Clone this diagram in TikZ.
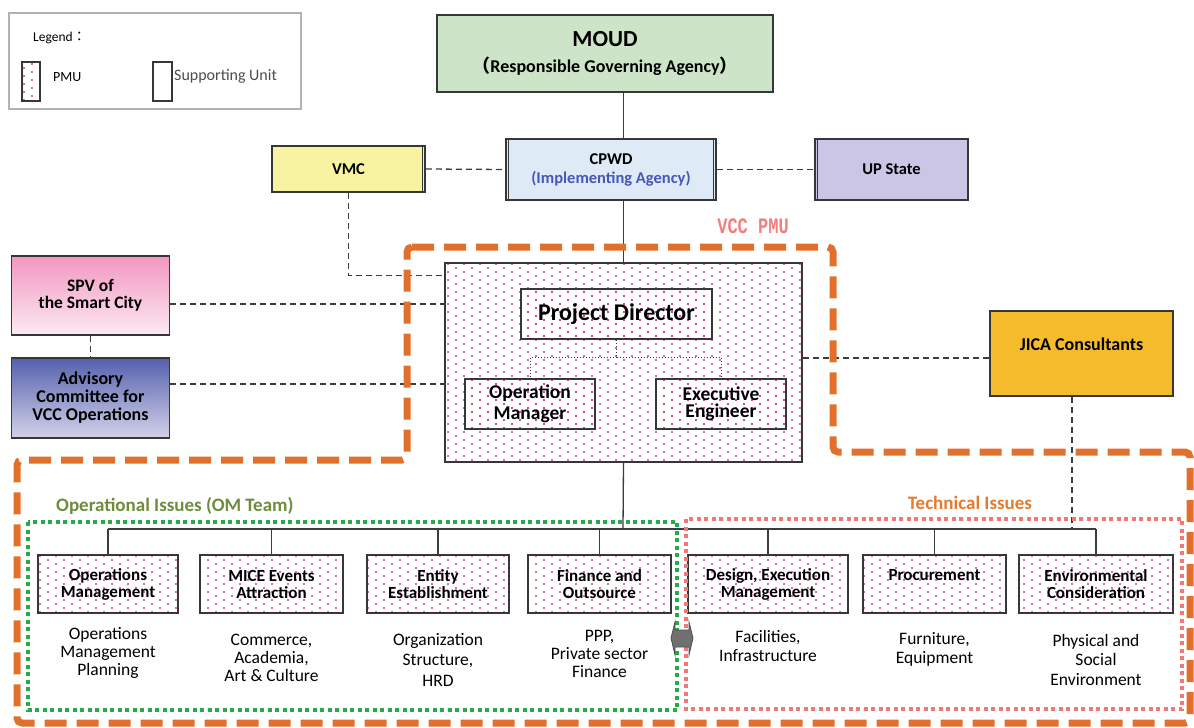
\documentclass[tikz,border=0pt]{standalone}
\usepackage{fontspec}
\setmainfont{Carlito}
\newfontfamily\cjk{Noto Sans CJK JP}
\newfontfamily\pmufont{Liberation Mono}
\usepackage{tikz}
\usetikzlibrary{patterns}

\definecolor{boxline}{RGB}{55,55,55}
\definecolor{linegray}{RGB}{60,60,60}
\definecolor{dotpink}{RGB}{210,60,150}
\definecolor{moudgreen}{RGB}{206,228,200}
\definecolor{cpwdblue}{RGB}{222,234,246}
\definecolor{agencyblue}{RGB}{70,88,184}
\definecolor{vmcyellow}{RGB}{247,243,161}
\definecolor{uplilac}{RGB}{203,198,229}
\definecolor{spvtop}{RGB}{242,150,192}
\definecolor{spvbot}{RGB}{252,234,242}
\definecolor{advtop}{RGB}{84,96,172}
\definecolor{advbot}{RGB}{212,210,234}
\definecolor{jicagold}{RGB}{244,188,44}
\definecolor{fenceorange}{RGB}{224,112,44}
\definecolor{vccred}{RGB}{240,128,128}
\definecolor{omgreen}{RGB}{36,172,72}
\definecolor{omolive}{RGB}{110,140,60}
\definecolor{techpink}{RGB}{240,120,120}
\definecolor{techorange}{RGB}{228,122,46}
\definecolor{arrowgray}{RGB}{112,112,112}

\newcommand\setfs[2]{\fontsize{#1}{#2}\selectfont}

\pgfdeclarepatternformonly{pmudots}{\pgfqpoint{-1.5pt}{-1.5pt}}{\pgfqpoint{14.5pt}{6.5pt}}{\pgfqpoint{16pt}{8pt}}{%
  \pgfpathcircle{\pgfqpoint{0pt}{0pt}}{1.05pt}%
  \pgfpathcircle{\pgfqpoint{8pt}{4pt}}{1.05pt}%
  \pgfusepath{fill}}

\begin{document}
\begin{tikzpicture}[x=1pt,y=-1pt,
  unit/.style={draw=boxline,line width=1.6,align=center,inner sep=2,text=black,font=\bfseries},
  pmubox/.style={unit,pattern=pmudots,pattern color=dotpink},
  link/.style={draw=linegray,line width=1.3,dash pattern=on 6pt off 4pt},
  tree/.style={draw=linegray,line width=1.3},
  desc/.style={align=center,inner sep=0,anchor=north,font=\setfs{17.5}{18}},
  pmufence/.style={draw=fenceorange,line width=7,dash pattern=on 22pt off 10pt,rounded corners=5},
  issuefence/.style={line width=4,dash pattern=on 4pt off 3.5pt}]
\useasboundingbox (0,0) rectangle (1194,728);

% legend
\node[draw=gray!60,line width=1.2,minimum width=292,minimum height=96] (legend) at (155,61) {};
\node[anchor=west,inner sep=0,font=\setfs{13.5}{15}] (legtitle) at (33,38) {Legend{\cjk ：}};
\node[pmubox,line width=1.3,minimum width=18,minimum height=39] (legpmu) at (31,81.5) {};
\node[anchor=west,inner sep=0,font=\setfs{14}{15}] (legpmutxt) at (53,77) {PMU};
\node[unit,line width=1.3,minimum width=19,minimum height=39] (legsup) at (162.5,81.5) {};
\node[anchor=west,inner sep=0,text=black!70,font=\setfs{16}{18}] (legsuptxt) at (174,76) {Supporting Unit};

% ministry and agencies
\node[unit,fill=moudgreen,minimum width=336,minimum height=77,font=\bfseries\setfs{18}{26}] (moud) at (605,53.5)
  {{\setfs{23}{26}MOUD}\\{\cjk （}Responsible Governing Agency{\cjk ）}};
\node[unit,fill=cpwdblue,minimum width=210,minimum height=61,font=\bfseries\setfs{16.5}{19}] (cpwd) at (611,169.5)
  {CPWD\\\textcolor{agencyblue}{(Implementing Agency)}};
\node[unit,fill=vmcyellow,minimum width=153,minimum height=46,font=\bfseries\setfs{16.5}{19}] (vmc) at (348.5,169) {VMC};
\node[unit,fill=uplilac,minimum width=153,minimum height=61,font=\bfseries\setfs{16.5}{19}] (upstate) at (891.5,169.5) {UP State};
\draw[boxline,line width=1] ([xshift=3]cpwd.north west) -- ([xshift=3]cpwd.south west)
  ([xshift=-3]cpwd.north east) -- ([xshift=-3]cpwd.south east)
  ([xshift=-3]vmc.north east) -- ([xshift=-3]vmc.south east)
  ([xshift=3]upstate.north west) -- ([xshift=3]upstate.south west);

% PMU
\node[pmubox,minimum width=357,minimum height=199] (pmu) at (623.5,362.5) {};
\node[pmubox,minimum width=191,minimum height=50,font=\bfseries\setfs{24}{26}] (pd) at (616.5,314) {Project Director};
\node[pmubox,minimum width=130,minimum height=50,font=\bfseries\setfs{19.5}{21}] (opmgr) at (530,404) {Operation\\Manager};
\node[pmubox,minimum width=130,minimum height=50,font=\bfseries\setfs{19.5}{17.5}] (exeng) at (721,404) {Executive\\Engineer};

% outside units
\node[unit,top color=spvtop,bottom color=spvbot,minimum width=158,minimum height=79,font=\bfseries\setfs{17.5}{17}] (spv) at (90.5,295.5)
  {SPV of\\the Smart City};
\node[unit,top color=advtop,bottom color=advbot,minimum width=158,minimum height=80,font=\bfseries\setfs{18}{18}] (advisory) at (90.5,398)
  {Advisory\\Committee for\\VCC Operations};
\node[unit,fill=jicagold,minimum width=183,minimum height=85,font=\bfseries\setfs{18}{20}] (jica) at (1081.5,353.5)
  {\raisebox{9pt}[\height][\depth]{JICA Consultants}};

% teams
\coordinate (bus) at (623,529);
\node[pmubox,minimum width=140,minimum height=58,font=\bfseries\setfs{17}{17}] (opsm) at (108,584) {Operations\\Management};
\node[pmubox,minimum width=143,minimum height=58,font=\bfseries\setfs{17}{17}] (mice) at (271.5,584) {MICE Events\\Attraction};
\node[pmubox,minimum width=142,minimum height=58,font=\bfseries\setfs{17}{17}] (entity) at (438,584) {Entity\\Establishment};
\node[pmubox,minimum width=143,minimum height=58,font=\bfseries\setfs{17}{17}] (finance) at (599.5,584) {Finance and\\Outsource};
\node[pmubox,minimum width=160,minimum height=58,font=\bfseries\setfs{17}{17}] (design) at (768,584) {Design, Execution\\Management};
\node[pmubox,minimum width=143,minimum height=58,font=\bfseries\setfs{17}{17}] (procure) at (934.5,584)
  {\raisebox{9pt}[\height][\depth]{Procurement}};
\node[pmubox,minimum width=154,minimum height=58,font=\bfseries\setfs{17}{17}] (env) at (1096,584) {Environmental\\Consideration};

\node[desc] (opsmtxt) at (108,627) {Operations\\Management\\Planning};
\node[desc] (micetxt) at (271.5,634) {Commerce,\\Academia,\\Art \& Culture};
\node[desc,font=\setfs{17.5}{20.5}] (entitytxt) at (438,633) {Organization\\Structure,\\HRD};
\node[desc] (financetxt) at (599.5,630) {PPP,\\Private sector\\Finance};
\node[desc,font=\setfs{17.5}{19}] (designtxt) at (768,630) {Facilities,\\Infrastructure};
\node[desc,font=\setfs{17.5}{19}] (procuretxt) at (934.5,632) {Furniture,\\Equipment};
\node[desc,font=\setfs{17.5}{19.5}] (envtxt) at (1096,634) {Physical and\\Social\\Environment};

% connectors
\draw[tree] (moud.south -| pmu.north) -- (cpwd.north -| pmu.north);
\draw[tree] (cpwd.south -| pmu.north) -- (pmu.north);
\draw[link] (vmc.east) -- (cpwd.west);
\draw[link] (cpwd.east) -- (upstate.west);
\draw[link] (vmc.south) |- ([yshift=-13]pmu.north west);
\draw[link] ([yshift=-8.5]spv.east) -- ([yshift=-8.5]spv.east -| pmu.west);
\draw[link] (spv.south) -- (advisory.north);
\draw[link] ([yshift=14]advisory.east) -- ([yshift=14]advisory.east -| pmu.west);
\draw[link] ([yshift=-4.5]jica.west) -- ([yshift=-4.5]jica.west -| pmu.east);
\draw[link] ([xshift=-9.5]jica.south) -- ([xshift=-9.5]jica.south |- bus);
\draw[linegray,line width=1,dotted] (pd.south) -- ++(0,18) -| (opmgr.north);
\draw[linegray,line width=1,dotted] (pd.south) -- ++(0,18) -| (exeng.north);
\draw[tree] (pmu.south) -- (bus);
\draw[tree] (opsm.north |- bus) -- (env.north |- bus);
\foreach \b in {opsm,mice,entity,finance,design,procure,env}
  \draw[tree] (\b.north |- bus) -- (\b.north);

% VCC PMU boundary and issue groups
\draw[pmufence] (407,247) -- (833,247) -- (833,452) -- (1190,452) -- (1190,723) -- (17,723) -- (17,460) -- (407,460) -- cycle;
\node[text=vccred,font=\pmufont\bfseries\setfs{17}{17}] (vcclabel) at (753,226) {\scalebox{1}[1.3]{VCC PMU}};
\draw[issuefence,draw=omgreen] (28,522) rectangle (677,710);
\draw[issuefence,draw=techpink] (686,519) rectangle (1182,709);
\node[anchor=west,inner sep=0,text=omolive,font=\bfseries\setfs{19}{20}] (omlabel) at (56,506) {Operational Issues (OM Team)};
\node[inner sep=0,text=techorange,font=\bfseries\setfs{19}{20}] (techlabel) at (970,503) {Technical Issues};
\filldraw[fill=arrowgray,draw=arrowgray!70!black,line width=0.8] (671,638) -- (675,622) -- (675,630) -- (689,630) -- (689,622)
  -- (693,638) -- (689,655) -- (689,647) -- (675,647) -- (675,655) -- cycle;
\end{tikzpicture}
\end{document}
